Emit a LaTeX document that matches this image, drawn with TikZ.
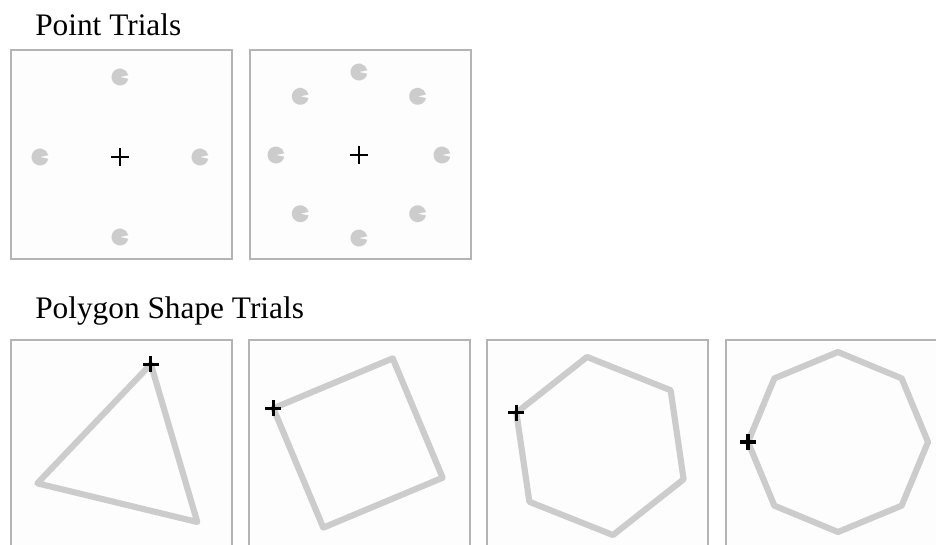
\documentclass[tikz,border=0pt]{standalone}
\usepackage{fontspec}
\usepackage{xcolor}
\setmainfont{Liberation Serif}
\usetikzlibrary{calc}
\definecolor{framegray}{HTML}{B4B4B4}
\definecolor{shapegray}{HTML}{CCCCCC}
\definecolor{panelfill}{HTML}{FDFDFD}

\begin{document}
\begin{tikzpicture}[
    x=0.75pt, y=-0.75pt,
    panel/.style={draw=framegray, fill=panelfill, line width=1.2pt},
    outline/.style={draw=shapegray, line width=4.6pt, line join=round},
    target/.style={fill=shapegray},
    thinfix/.style={line width=1.2pt},
    boldfix/.style={line width=2.4pt},
    heading/.style={anchor=base west, inner sep=0pt,
                    font=\fontsize{23.5}{28}\selectfont}
  ]
    \useasboundingbox (0,0) rectangle (936,544);
    \clip (0,0) rectangle (936,544);

    % point trials
    \node[heading] (ptitle) at (35,35) {Point Trials};
    \draw[panel] (11,50) rectangle (232,259);
    \draw[panel] (250,50) rectangle (471,259);
    \coordinate (fourc) at (120,157);
    \coordinate (eightc) at (359,155);

    \foreach \a in {0,90,180,270}
      \fill[target] (fourc) ++(\a:80) -- ++(12:8.5) arc (12:348:8.5) -- cycle;
    \foreach \a in {0,45,...,315}
      \fill[target] (eightc) ++(\a:83) -- ++(12:8.5) arc (12:348:8.5) -- cycle;

    \draw[thinfix] (fourc) ++(-9,0) -- ++(18,0) (fourc) ++(0,-9) -- ++(0,18);
    \draw[thinfix] (eightc) ++(-9,0) -- ++(18,0) (eightc) ++(0,-9) -- ++(0,18);

    % polygon shape trials
    \node[heading] (stitle) at (35,318) {Polygon Shape Trials};
    \draw[panel] (11,340) rectangle (232,549);
    \draw[panel] (249,340) rectangle (470,549);
    \draw[panel] (487,340) rectangle (708,549);
    \draw[panel] (726,340) rectangle (947,549);

    \coordinate (tric) at (128.5,456.5);
    \coordinate (sqc) at (358,443);
    \coordinate (hexc) at (600,446);
    \coordinate (octc) at (838,442);

    \draw[outline] ($(tric)+(283.6:95)$) -- ($(tric)+(43.6:95)$)
      -- ($(tric)+(163.6:95)$) -- cycle;
    \draw[outline] ($(sqc)+(202.3:91.5)$) \foreach \k in {1,2,3} {
      -- ($(sqc)+(202.3+90*\k:91.5)$)} -- cycle;
    \draw[outline] ($(hexc)+(201.7:90)$) \foreach \k in {1,...,5} {
      -- ($(hexc)+(201.7+60*\k:90)$)} -- cycle;
    \draw[outline] ($(octc)+(180:90)$) \foreach \k in {1,...,7} {
      -- ($(octc)+(180+45*\k:90)$)} -- cycle;

    \coordinate (trix) at ($(tric)+(283.6:95)$);
    \coordinate (sqx) at ($(sqc)+(202.3:91.5)$);
    \coordinate (hexx) at ($(hexc)+(201.7:90)$);
    \coordinate (octx) at ($(octc)+(180:90)$);
    \foreach \p in {trix,sqx,hexx,octx}
      \draw[boldfix] (\p) ++(-8,0) -- ++(16,0) (\p) ++(0,-8) -- ++(0,16);
\end{tikzpicture}
\end{document}
